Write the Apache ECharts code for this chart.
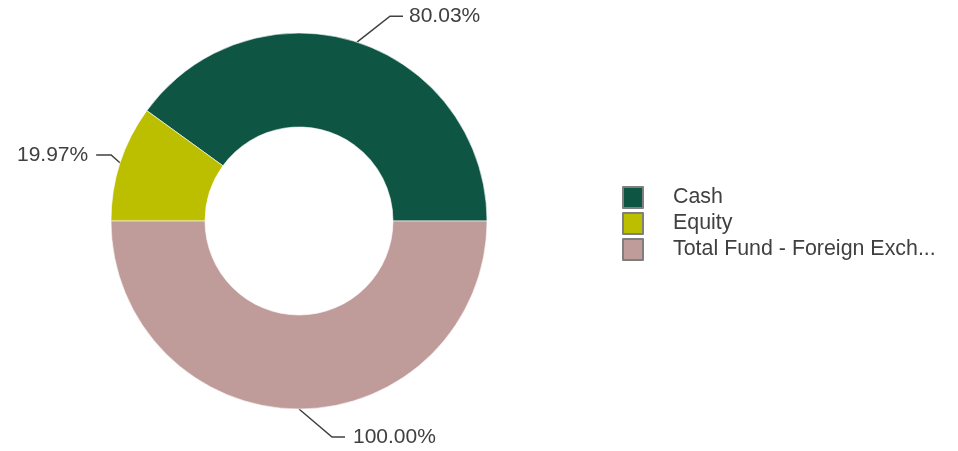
<!DOCTYPE html>
<html>
<head>
<meta charset="utf-8">
<script src="https://cdn.jsdelivr.net/npm/echarts@6/dist/echarts.min.js"></script>
<style>
html,body{margin:0;padding:0;background:#fff;}
#chart{width:958px;height:451px;}
</style>
</head>
<body>
<div id="chart"></div>
<script>
const categories = ['Cash', 'Equity', 'Total Fund - Foreign Exch...'];
const values = [80.03, 19.97, 100.00];
const colors = ['#0f5544', '#bcbf00', '#bf9b99'];

// label line offsets (elbow dx, dy, horizontal length, text gap) per slice
const elbows = [[33, -26, 13, 6], [-9, -8, -15, 8], [33, 28, 13, 8]];

const chart = echarts.init(document.getElementById('chart'), null, {renderer: 'canvas'});
chart.setOption({
  animation: false,
  backgroundColor: '#ffffff',
  color: colors,
  legend: {
    orient: 'vertical',
    left: 617,
    top: 181,
    itemWidth: 20,
    itemHeight: 21,
    itemGap: 3,
    icon: 'rect',
    itemStyle: {borderColor: '#7f7f7f', borderWidth: 2},
    textStyle: {fontFamily: 'Liberation Sans, Arial, sans-serif', fontSize: 21.4, lineHeight: 21, color: '#404040', padding: [0, 0, 0, 25]},
    data: categories
  },
  series: [{
    type: 'pie',
    center: [299, 221],
    radius: [94, 188],
    startAngle: 0,
    clockwise: false,
    avoidLabelOverlap: false,
    itemStyle: {borderColor: '#ffffff', borderWidth: 0.6},
    label: {
      show: true,
      position: 'outside',
      formatter: p => p.value.toFixed(2) + '%',
      fontFamily: 'Liberation Sans, Arial, sans-serif',
      fontSize: 21,
      color: '#404040'
    },
    labelLine: {show: true, length: 20, length2: 10, lineStyle: {color: '#404040', width: 1.5}},
    labelLayout: function (params) {
      const e = elbows[params.dataIndex];
      const p0 = params.labelLinePoints[0];
      const p1 = [p0[0] + e[0], p0[1] + e[1]];
      const p2 = [p1[0] + e[2], p1[1]];
      const right = e[2] > 0;
      return {
        x: p2[0] + (right ? e[3] : -e[3]),
        y: p2[1],
        align: right ? 'left' : 'right',
        verticalAlign: 'middle',
        labelLinePoints: [p0, p1, p2]
      };
    },
    emphasis: {disabled: true},
    data: categories.map((c, i) => ({name: c, value: values[i]}))
  }]
});
</script>
</body>
</html>
